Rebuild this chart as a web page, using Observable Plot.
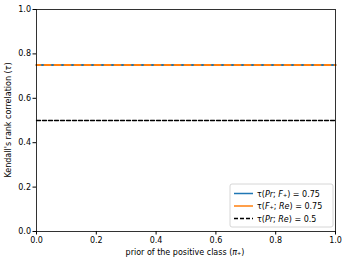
<!DOCTYPE html>
<html><head><meta charset="utf-8">
<script src="https://cdn.jsdelivr.net/npm/d3@7"></script>
<script src="https://cdn.jsdelivr.net/npm/@observablehq/plot@0.6"></script>
<style>
body{margin:0;background:#fff;}
svg{font-family:"DejaVu Sans",sans-serif;}
</style>
</head><body><div id="chart"></div>
<script>
const priors = [0, 0.1, 0.2, 0.3, 0.4, 0.5, 0.6, 0.7, 0.8, 0.9, 1.0];
const tauPrF = [0.75, 0.75, 0.75, 0.75, 0.75, 0.75, 0.75, 0.75, 0.75, 0.75, 0.75];
const tauFRe = [0.75, 0.75, 0.75, 0.75, 0.75, 0.75, 0.75, 0.75, 0.75, 0.75, 0.75];
const tauPrRe = [0.5, 0.5, 0.5, 0.5, 0.5, 0.5, 0.5, 0.5, 0.5, 0.5, 0.5];
// legend label parts: [text, italic]
const seriesNames = [
  [["τ(", false], ["Pr", true], ["; ", false], ["F", true], ["₊", false], [") = 0.75", false]],
  [["τ(", false], ["F", true], ["₊", false], ["; ", false], ["Re", true], [") = 0.75", false]],
  [["τ(", false], ["Pr", true], ["; ", false], ["Re", true], [") = 0.5", false]]
];
const seriesColors = ["#1f77b4", "#ff7f0e", "#000000"];
const ticks = [0, 0.2, 0.4, 0.6, 0.8, 1.0];

const mk = (vals) => priors.map((p, i) => ({x: p, y: vals[i]}));

const W = 347, H = 264;
const chart = Plot.plot({
  width: W, height: H,
  marginLeft: 36, marginRight: 12, marginTop: 9, marginBottom: 33,
  style: {fontSize: "8px", fontFamily: "DejaVu Sans, sans-serif", background: "#fff"},
  x: {domain: [0, 1], ticks: ticks, tickFormat: d3.format(".1f"), label: null},
  y: {domain: [0, 1], ticks: ticks, tickFormat: d3.format(".1f"), label: null},
  marks: [
    Plot.line(mk(tauPrF), {x: "x", y: "y", stroke: seriesColors[0], strokeWidth: 2}),
    Plot.line(mk(tauFRe), {x: "x", y: "y", stroke: seriesColors[1], strokeWidth: 2, strokeDasharray: "6,4", strokeDashoffset: 2}),
    Plot.line(mk(tauPrRe), {x: "x", y: "y", stroke: seriesColors[2], strokeWidth: 1.3, strokeDasharray: "4,2"}),
    Plot.frame({stroke: "#000", strokeWidth: 0.8}),
    Plot.axisX({ticks: ticks, tickFormat: d3.format(".1f"), tickSize: 3.5, tickPadding: 2, label: null, fontSize: 8}),
    Plot.axisY({ticks: ticks, tickFormat: d3.format(".1f"), tickSize: 3.5, tickPadding: 2, label: null, fontSize: 8})
  ]
});
document.getElementById("chart").appendChild(chart);

const svg = d3.select(chart);
const xl = svg.append("text").attr("x", 185).attr("y", 255).attr("text-anchor", "middle")
  .attr("font-size", 8).attr("fill", "#000");
xl.append("tspan").text("prior of the positive class (");
xl.append("tspan").attr("font-style", "italic").text("π");
xl.append("tspan").text("₊)");
const yl = svg.append("text").attr("transform", "translate(11,120) rotate(-90)").attr("text-anchor", "middle")
  .attr("font-size", 8).attr("fill", "#000");
yl.append("tspan").text("Kendall's rank correlation (");
yl.append("tspan").attr("font-style", "italic").text("τ");
yl.append("tspan").text(")");

const lg = svg.append("g").attr("transform", "translate(230,184)");
lg.append("rect").attr("width", 103).attr("height", 43).attr("rx", 2)
  .attr("fill", "#fff").attr("fill-opacity", 0.8).attr("stroke", "#ccc").attr("stroke-width", 0.8);
seriesNames.forEach((parts, i) => {
  const yy = 9.5 + i * 12.5;
  lg.append("line").attr("x1", 4).attr("x2", 23).attr("y1", yy).attr("y2", yy)
    .attr("stroke", seriesColors[i]).attr("stroke-width", i === 2 ? 1.3 : 1.5)
    .attr("stroke-dasharray", i === 2 ? "4,2" : null);
  const t = lg.append("text").attr("x", 27).attr("y", yy + 3).attr("text-anchor", "start")
    .attr("font-size", 8).attr("fill", "#000");
  parts.forEach(([s, it]) => {
    const sp = t.append("tspan").text(s);
    if (it) sp.attr("font-style", "italic");
  });
});
</script></body></html>
